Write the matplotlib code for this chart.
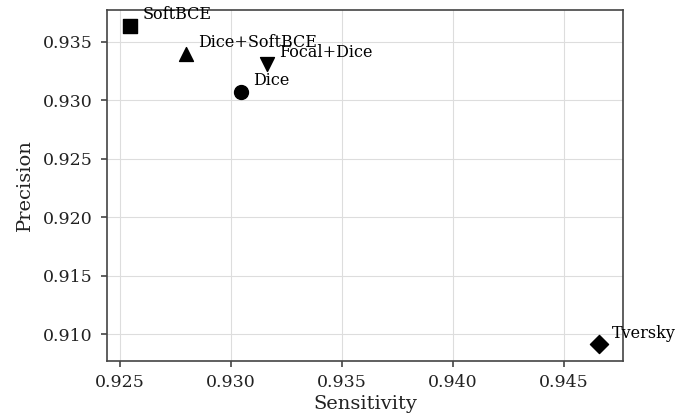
import matplotlib
matplotlib.use("Agg")
import matplotlib.pyplot as plt

# loss functions compared on the validation set
losses = ["SoftBCE", "Dice+SoftBCE", "Focal+Dice", "Dice", "Tversky"]
sensitivity = [0.92545, 0.92796, 0.93161, 0.93045, 0.94659]
precision = [0.93636, 0.93398, 0.93310, 0.93071, 0.90912]
markers = ["s", "^", "v", "o", "D"]

plt.rcParams["font.family"] = "DejaVu Serif"

fig = plt.figure(figsize=(6.75, 4.15), dpi=100)
ax = fig.add_axes([0.1585, 0.130, 0.7645, 0.846])

for name, x, y, m in zip(losses, sensitivity, precision, markers):
    ax.scatter(x, y, marker=m, s=100 if m != "D" else 85, color="black", zorder=3)
    ax.annotate(name, (x, y), xytext=(9, 8), textcoords="offset points",
                ha="left", va="center", fontsize=11.5)

ax.set_xlim(0.92441, 0.94766)
ax.set_ylim(0.9077, 0.93772)
ax.set_xticks([0.925, 0.930, 0.935, 0.940, 0.945])
ax.set_yticks([0.910, 0.915, 0.920, 0.925, 0.930, 0.935])
ax.xaxis.set_major_formatter(matplotlib.ticker.FormatStrFormatter("%.3f"))
ax.yaxis.set_major_formatter(matplotlib.ticker.FormatStrFormatter("%.3f"))

ax.grid(True, color="#dddddd", linewidth=0.8, zorder=0)
ax.set_axisbelow(True)
for s in ax.spines.values():
    s.set_color("#444444")
    s.set_linewidth(1.2)
ax.tick_params(colors="#444444", labelcolor="#222222", labelsize=12.5, width=1.2, length=4.5)
ax.tick_params(axis="y", pad=6)
ax.tick_params(axis="x", pad=5)

ax.set_xlabel("Sensitivity", fontsize=14, color="#222222", labelpad=3)
ax.set_ylabel("Precision", fontsize=14, color="#222222", labelpad=6)

fig.savefig("out.png", dpi=100)
